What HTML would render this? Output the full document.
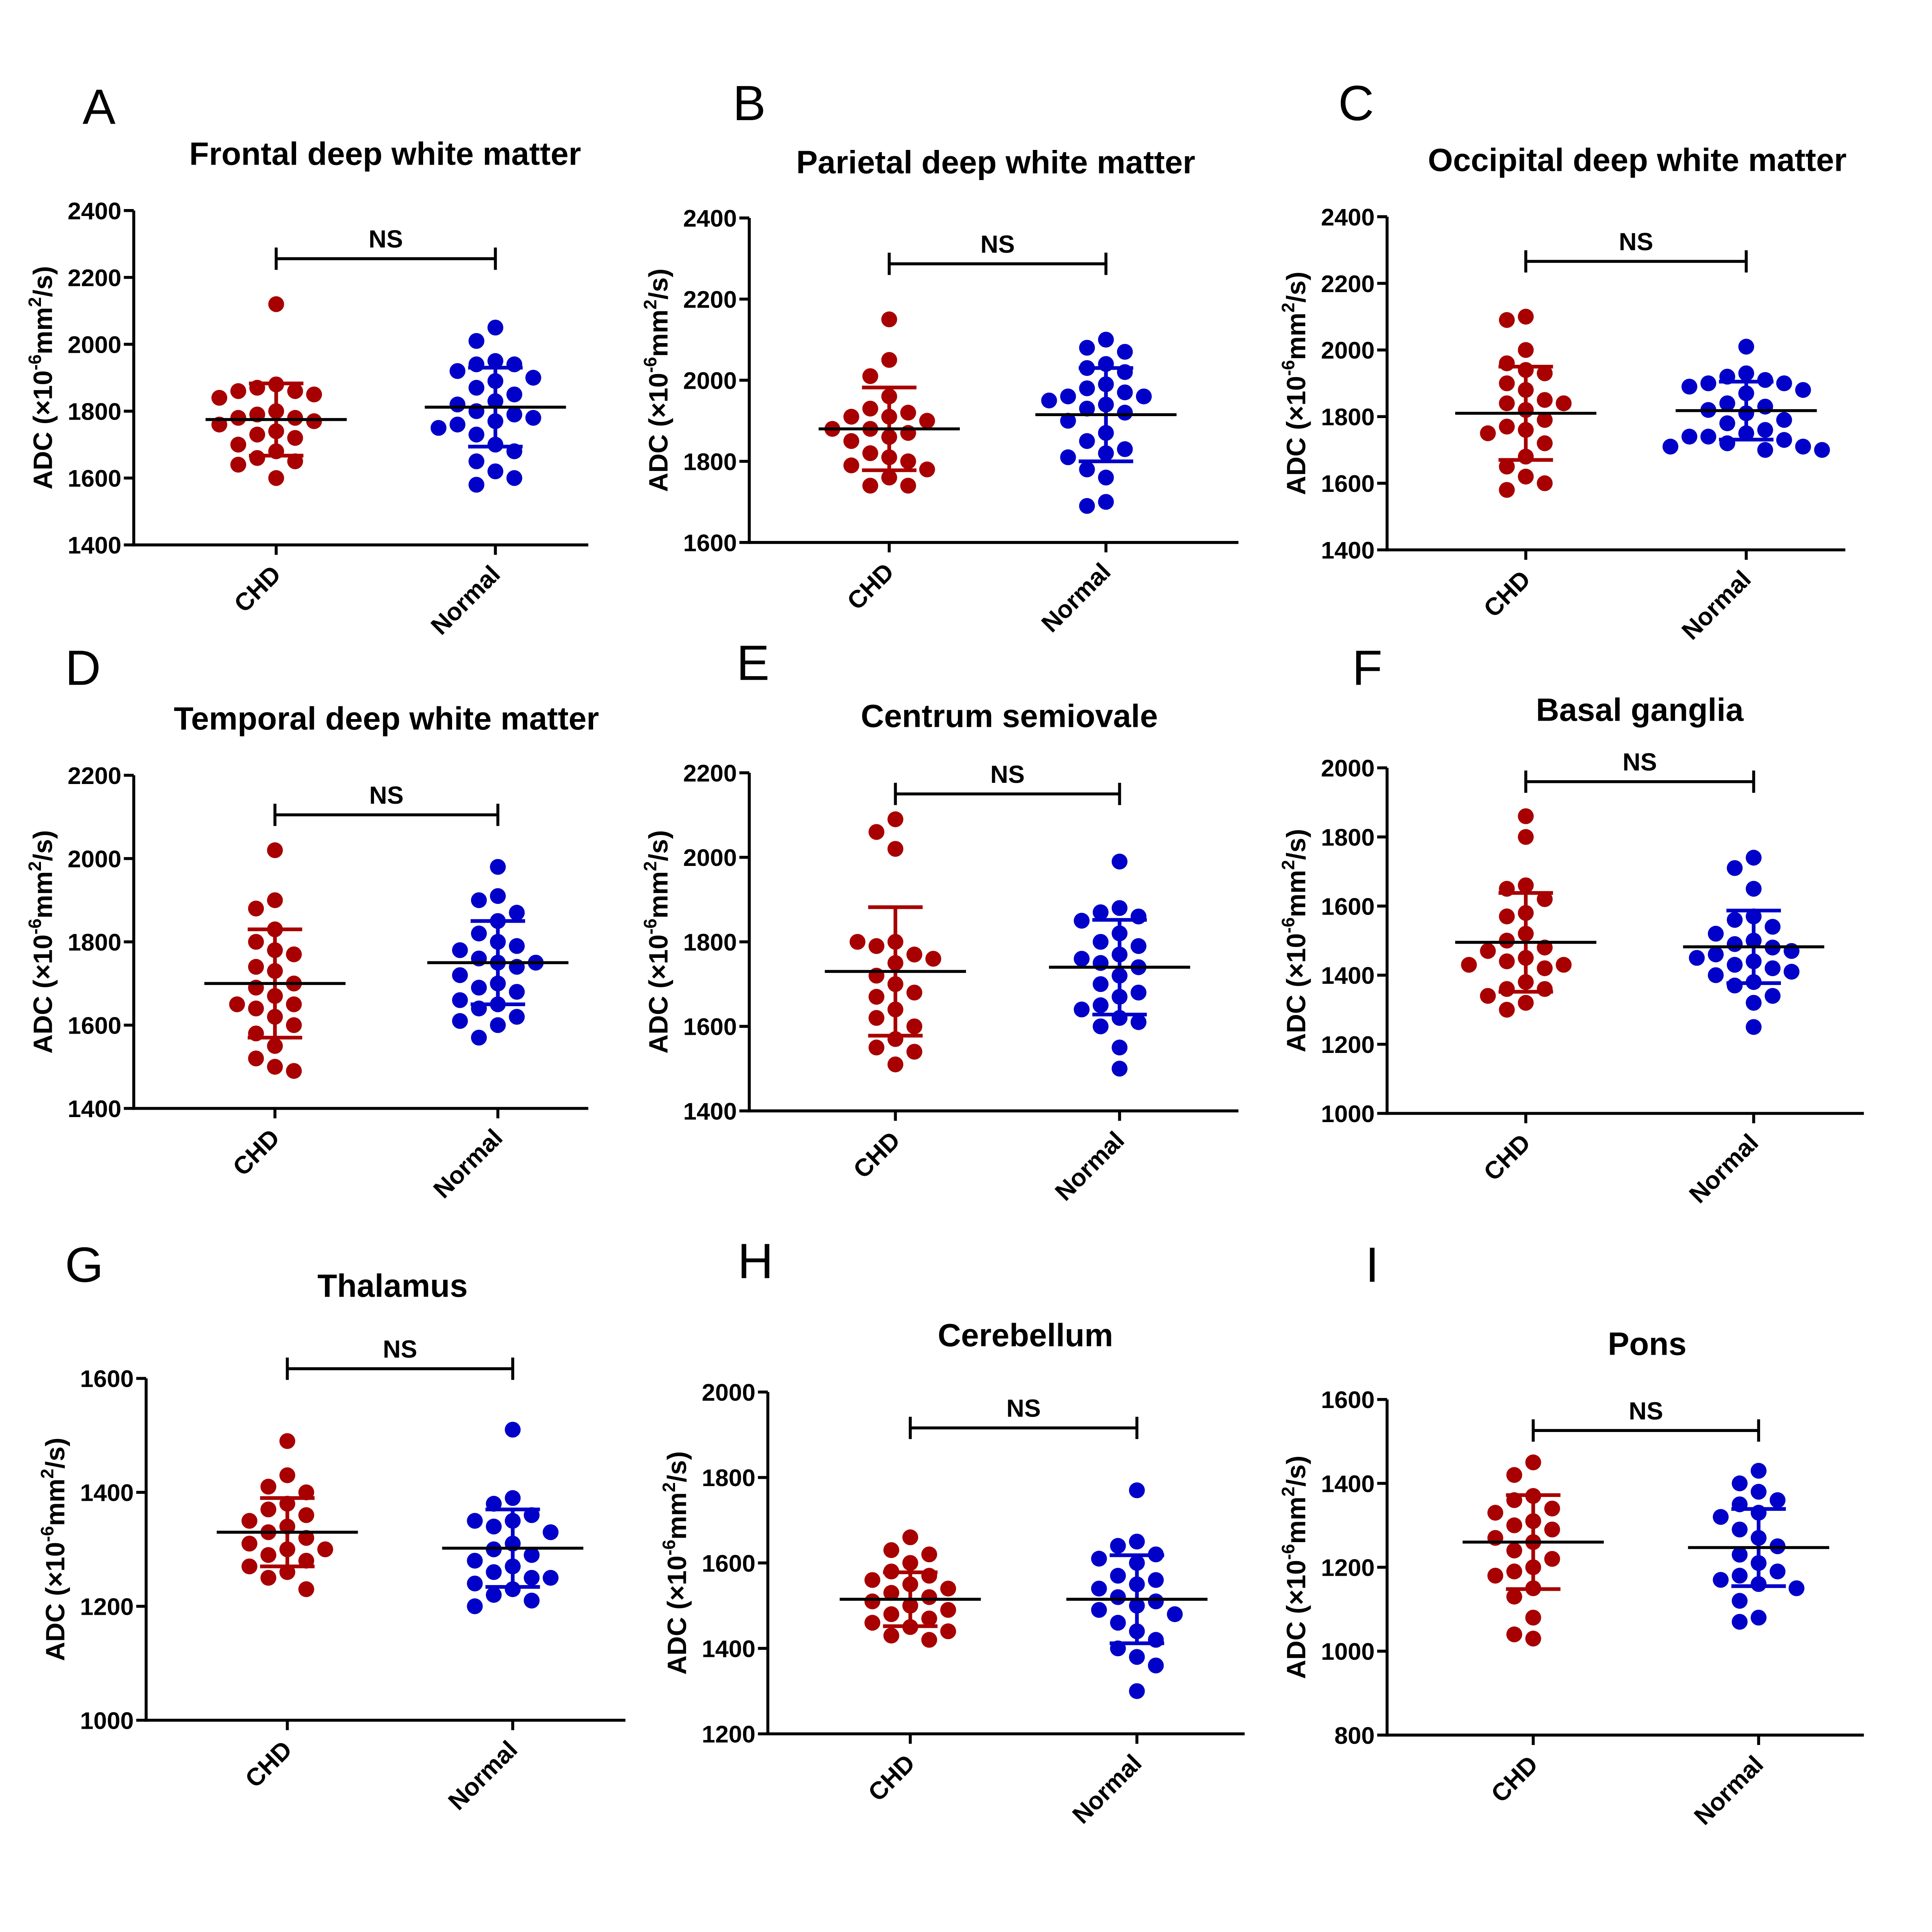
<!DOCTYPE html>
<html><head><meta charset="utf-8">
<style>
html,body{margin:0;padding:0;background:#fff;overflow:hidden;width:100vw;height:100vh;}
svg{display:block;width:100vw;height:100vh;}
text{font-family:"Liberation Sans",Arial,sans-serif;}
</style></head>
<body>
<svg id="chart" viewBox="0 0 1560 1560" preserveAspectRatio="none" xmlns="http://www.w3.org/2000/svg"></svg>
<script>
// ---- data ----
const panelLetters = ["A","B","C","D","E","F","G","H","I"];
const panelTitles = ["Frontal deep white matter","Parietal deep white matter","Occipital deep white matter","Temporal deep white matter","Centrum semiovale","Basal ganglia","Thalamus","Cerebellum","Pons"];
const groupNames = ["CHD","Normal"];
const yMins = [1400,1600,1400,1400,1400,1000,1000,1200,800];
const yMaxs = [2400,2400,2400,2200,2200,2000,1600,2000,1600];
const chdValues = [
 [2120,1880,1870,1860,1860,1850,1840,1800,1790,1780,1780,1770,1760,1740,1730,1720,1700,1680,1660,1650,1640,1600],
 [2150,2050,2010,1960,1930,1920,1910,1910,1900,1880,1880,1870,1860,1850,1820,1810,1800,1790,1780,1760,1740,1740],
 [2100,2090,2000,1960,1940,1930,1900,1880,1850,1840,1840,1820,1790,1770,1760,1750,1720,1680,1650,1620,1600,1580],
 [2020,1900,1880,1830,1800,1780,1770,1740,1730,1700,1690,1670,1650,1650,1640,1620,1600,1580,1550,1520,1500,1490],
 [2090,2060,2020,1800,1800,1790,1770,1760,1750,1720,1700,1680,1670,1640,1620,1600,1570,1550,1540,1510],
 [1860,1800,1660,1650,1620,1580,1570,1520,1500,1480,1470,1450,1440,1430,1430,1420,1380,1360,1360,1340,1320,1300],
 [1490,1430,1410,1400,1380,1370,1360,1350,1340,1330,1320,1310,1300,1300,1290,1280,1270,1260,1250,1230],
 [1660,1630,1620,1600,1580,1570,1560,1550,1540,1530,1520,1510,1500,1490,1480,1470,1460,1450,1440,1430,1420],
 [1450,1420,1370,1360,1340,1330,1310,1300,1290,1270,1260,1240,1220,1200,1190,1180,1150,1130,1080,1040,1030]
];
const normalValues = [
 [2050,2010,1950,1940,1940,1920,1900,1890,1870,1850,1830,1820,1800,1790,1780,1770,1760,1750,1730,1700,1680,1650,1620,1600,1580],
 [2100,2080,2070,2040,2030,2020,1990,1980,1970,1960,1960,1950,1940,1930,1920,1900,1870,1850,1830,1820,1810,1780,1760,1700,1690],
 [2010,1930,1920,1910,1900,1900,1890,1880,1870,1840,1830,1820,1810,1790,1780,1760,1750,1740,1740,1730,1720,1710,1710,1700,1700],
 [1980,1910,1900,1870,1850,1820,1800,1790,1780,1760,1750,1750,1740,1720,1700,1690,1680,1660,1650,1640,1620,1610,1600,1570],
 [1990,1880,1870,1860,1850,1820,1800,1790,1770,1760,1750,1740,1720,1700,1680,1670,1650,1640,1620,1610,1600,1550,1500],
 [1740,1710,1650,1570,1560,1540,1520,1500,1490,1480,1470,1460,1450,1440,1430,1420,1410,1400,1380,1370,1340,1320,1250],
 [1510,1390,1380,1360,1350,1350,1340,1330,1310,1300,1290,1280,1270,1260,1250,1250,1240,1230,1220,1210,1200],
 [1770,1650,1640,1620,1610,1600,1570,1560,1550,1540,1520,1510,1500,1490,1480,1460,1440,1420,1400,1380,1360,1300],
 [1430,1400,1380,1360,1350,1330,1320,1290,1270,1250,1230,1210,1190,1180,1170,1160,1150,1120,1080,1070]
];
const chdMeans = [1775,1880,1810,1700,1730,1495,1330,1515,1260];
const chdSDs = [108,102,140,130,152,143,60,63,112];
const normalMeans = [1812,1915,1818,1750,1740,1482,1302,1515,1247];
const normalSDs = [118,115,87,100,112,105,68,103,92];
const bracketValues = [2256,2287,2266,2105,2150,1960,1617,1916,1526];
const tickStep = 200;

// ---- layout (display units) ----
const L = [
 {ax:108,top:170,bot:440,right:475,c1:223,c2:400,tx:311,ty:133,lx:80,ly:100},
 {ax:605,top:176,bot:438,right:1000,c1:718,c2:893,tx:804,ty:140,lx:605,ly:97},
 {ax:1120,top:175,bot:444,right:1490,c1:1232,c2:1410,tx:1322,ty:138,lx:1095,ly:97},
 {ax:108,top:626,bot:895,right:475,c1:222,c2:402,tx:312,ty:589,lx:67,ly:553},
 {ax:605,top:624,bot:897,right:1000,c1:723,c2:904,tx:815,ty:587,lx:608,ly:549},
 {ax:1120,top:620,bot:899,right:1505,c1:1232,c2:1416,tx:1324,ty:582,lx:1104,ly:553},
 {ax:118,top:1113,bot:1389,right:505,c1:232,c2:414,tx:317,ty:1047,lx:68,ly:1035},
 {ax:620,top:1124,bot:1400,right:1005,c1:735,c2:918,tx:828,ty:1087,lx:610,ly:1032},
 {ax:1120,top:1130,bot:1401,right:1505,c1:1238,c2:1420,tx:1330,ty:1094,lx:1108,ly:1035}
];
const NS = "http://www.w3.org/2000/svg";
const svg = document.getElementById('chart');
function mk(tag, attrs, parent, txt){
  const e = document.createElementNS(NS, tag);
  for (const k in attrs) e.setAttribute(k, attrs[k]);
  if (txt !== undefined) e.textContent = txt;
  parent.appendChild(e);
  return e;
}
const R = 6.4;
function swarm(vals, cx, yf){
  const pts = [];
  const sorted = vals.slice().sort((a,b)=>b-a);
  sorted.forEach(v=>{
    const y = yf(v);
    let k = 0, x = cx;
    while (true){
      const off = (k===0?0:Math.ceil(k/2)*(2*R+2.5)*(k%2?-1:1));
      x = cx + off;
      if (!pts.some(p => Math.hypot(p.x-x,p.y-y) < 2*R+2.5)) break;
      k++;
    }
    pts.push({x,y,v});
  });
  return pts;
}
const colors = ["#a80000","#0000c8"];
for (let i=0;i<9;i++){
  const l = L[i];
  const g = mk('g',{},svg);
  
  
  const yf = v => l.bot - (v - yMins[i])/(yMaxs[i]-yMins[i])*(l.bot-l.top);
  let t = mk('text',{x:l.lx,y:l.ly,'font-size':40,'text-anchor':'middle'},g,panelLetters[i]);
   
  t = mk('text',{x:l.tx,y:l.ty,'font-size':26,'font-weight':'bold','text-anchor':'middle'},g,panelTitles[i]);
   
  let a = mk('line',{x1:l.ax,y1:l.top,x2:l.ax,y2:l.bot+1.2,stroke:'#000','stroke-width':2.4},g);
   
  a = mk('line',{x1:l.ax-1.2,y1:l.bot,x2:l.right,y2:l.bot,stroke:'#000','stroke-width':2.4},g);
   
  for (let v=yMins[i]; v<=yMaxs[i]; v+=tickStep){
    const y = yf(v);
    mk('line',{x1:l.ax-8,y1:y,x2:l.ax,y2:y,stroke:'#000','stroke-width':2.4},g);
    const tl = mk('text',{x:l.ax-10,y:y+7,'font-size':19.5,'font-weight':'bold','text-anchor':'end'},g,String(v));
     
  }
  const ymid = (l.top+l.bot)/2, yx = l.ax-66;
  const yt = mk('text',{x:yx,y:ymid,'font-size':21.5,'font-weight':'bold','text-anchor':'middle',transform:`rotate(-90 ${yx} ${ymid})`},g);
   
  mk('tspan',{},yt,'ADC (×10');
  mk('tspan',{dy:-9,'font-size':14.5},yt,'-6');
  mk('tspan',{dy:9},yt,'mm');
  mk('tspan',{dy:-9,'font-size':14.5},yt,'2');
  mk('tspan',{dy:9},yt,'/s)');
  const cs = [l.c1,l.c2];
  cs.forEach((cx,gi)=>{
    mk('line',{x1:cx,y1:l.bot,x2:cx,y2:l.bot+8,stroke:'#000','stroke-width':2.4},g);
    const xl = mk('text',{x:cx+5,y:l.bot+25,'font-size':20,'font-weight':'bold','text-anchor':'end',transform:`rotate(-45 ${cx+5} ${l.bot+25})`},g,groupNames[gi]);
     
  });
  [chdValues[i], normalValues[i]].forEach((vals,gi)=>{
    swarm(vals, cs[gi], yf).forEach(p=>{
      const c = mk('circle',{cx:p.x,cy:p.y,r:R,fill:colors[gi]},g);
      
      
    });
  });
  [[chdMeans[i],chdSDs[i]],[normalMeans[i],normalSDs[i]]].forEach((ms,gi)=>{
    const cx = cs[gi], col = colors[gi];
    const yt2 = yf(ms[0]+ms[1]), yb = yf(ms[0]-ms[1]), ym = yf(ms[0]);
    const e1 = mk('line',{x1:cx,y1:yt2,x2:cx,y2:yb,stroke:col,'stroke-width':3},g);
     
    mk('line',{x1:cx-22,y1:yt2,x2:cx+22,y2:yt2,stroke:col,'stroke-width':3},g);
    mk('line',{x1:cx-22,y1:yb,x2:cx+22,y2:yb,stroke:col,'stroke-width':3},g);
    const m = mk('line',{x1:cx-57,y1:ym,x2:cx+57,y2:ym,stroke:'#000','stroke-width':2.4},g);
     
  });
  const by = yf(bracketValues[i]);
  const br = mk('path',{d:`M${l.c1} ${by+9}V${by}H${l.c2}V${by+9}M${l.c1} ${by-9}V${by}M${l.c2} ${by-9}V${by}`,stroke:'#000','stroke-width':2.4,fill:'none'},g);
   
  const ns = mk('text',{x:(l.c1+l.c2)/2,y:by-9,'font-size':20,'font-weight':'bold','text-anchor':'middle'},g,'NS');
   
}
</script>
</body></html>
